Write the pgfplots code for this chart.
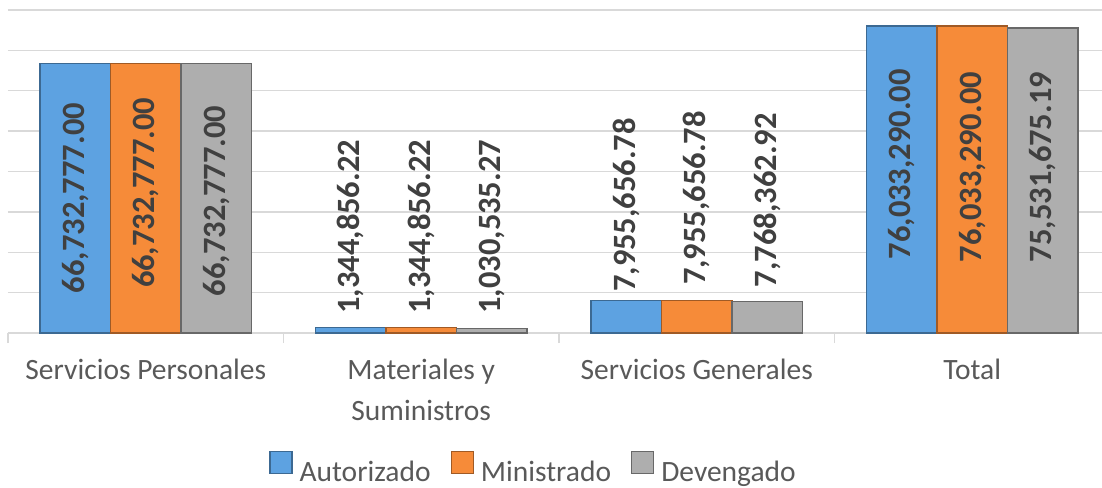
\documentclass[border=0pt]{standalone}
\usepackage{pgfplots}
\usepackage{pgfplotstable}
\pgfplotsset{compat=1.18}
\usepackage{fontspec}
\setmainfont{Carlito}
\definecolor{cblue}{HTML}{5DA2E1}
\definecolor{corange}{HTML}{F68B39}
\definecolor{cgray}{HTML}{AEAEAE}
\definecolor{gridgray}{HTML}{D9D9D9}
\definecolor{txtgray}{HTML}{595959}
\definecolor{lblgray}{HTML}{404040}

\pgfplotstableread{
x y ly lab
0 66732777.00 33400000 66,732,777.00
1 1344856.22 26300000 1,344,856.22
2 7955656.78 31700000 7,955,656.78
3 76033290.00 41800000 76,033,290.00
}\autorizado
\pgfplotstableread{
x y ly lab
0 66732777.00 34700000 66,732,777.00
1 1344856.22 26300000 1,344,856.22
2 7955656.78 33400000 7,955,656.78
3 76033290.00 41100000 76,033,290.00
}\ministrado
\pgfplotstableread{
x y ly lab
0 66732777.00 32700000 66,732,777.00
1 1030535.27 26300000 1,030,535.27
2 7768362.92 32900000 7,768,362.92
3 75531675.19 41100000 75,531,675.19
}\devengado

\begin{document}
\begin{tikzpicture}
\begin{axis}[
  at={(8pt,154pt)}, anchor=south west,
  scale only axis, width=1102pt, height=323pt,
  xmin=-0.5, xmax=3.5, ymin=0, ymax=80000000,
  axis x line*=bottom, axis y line*=left,
  y axis line style={draw=none},
  x axis line style={draw=gridgray, line width=1.3pt},
  scaled y ticks=false,
  ytick={0,10000000,20000000,30000000,40000000,50000000,60000000,70000000,80000000},
  yticklabels={}, ytick style={draw=none},
  ymajorgrids, grid style={draw=gridgray, line width=1.3pt},
  xtick={0,1,2,3},
  xticklabels={Servicios Personales, {Materiales y\\Suministros}, Servicios Generales, Total},
  minor xtick={-0.5,0.5,1.5,2.5,3.5},
  major x tick style={draw=none},
  minor x tick style={draw=gridgray, line width=1.3pt},
  xtick align=outside,
  minor tick length=10pt, major tick length=0pt,
  xticklabel style={anchor=north, align=center, text=txtgray, font=\fontsize{29.5}{41}\selectfont, yshift=-22pt},
  ybar=0pt, bar width=0.256,
  legend style={at={(0.4769,-0.418)}, anchor=center, draw=none, fill=none,
    font=\fontsize{29.5}{34}\selectfont, text=txtgray, legend columns=3,
    /tikz/every even column/.append style={column sep=18pt}},
  legend image code/.code={\draw[#1, line width=1.2pt] (0pt,-2pt) rectangle (22pt,20pt); \path (27pt,0pt);},
  clip=false,
]
\addplot[fill=cblue, draw=cblue!65!black, line width=1.2pt, bar shift=-0.256] table[x=x, y=y] {\autorizado};
\addplot[fill=corange, draw=corange!65!black, line width=1.2pt, bar shift=0] table[x=x, y=y] {\ministrado};
\addplot[fill=cgray, draw=cgray!60!black, line width=1.2pt, bar shift=0.256] table[x=x, y=y] {\devengado};
\legend{Autorizado, Ministrado, Devengado}

\pgfplotsset{lblstyle/.style={only marks, mark=none, forget plot, bar shift=0pt, nodes near coords, point meta=explicit symbolic,
  nodes near coords style={rotate=90, anchor=center, xshift=0pt, yshift=0pt, text=lblgray, font=\fontsize{32.5}{36}\selectfont\bfseries}}}
\addplot[lblstyle] table[x expr=\thisrow{x}-0.256, y=ly, meta=lab] {\autorizado};
\addplot[lblstyle] table[x expr=\thisrow{x}, y=ly, meta=lab] {\ministrado};
\addplot[lblstyle] table[x expr=\thisrow{x}+0.256, y=ly, meta=lab] {\devengado};
\end{axis}
\pgfresetboundingbox
\useasboundingbox (0pt,0pt) rectangle (1102pt,487pt);
\end{tikzpicture}
\end{document}
